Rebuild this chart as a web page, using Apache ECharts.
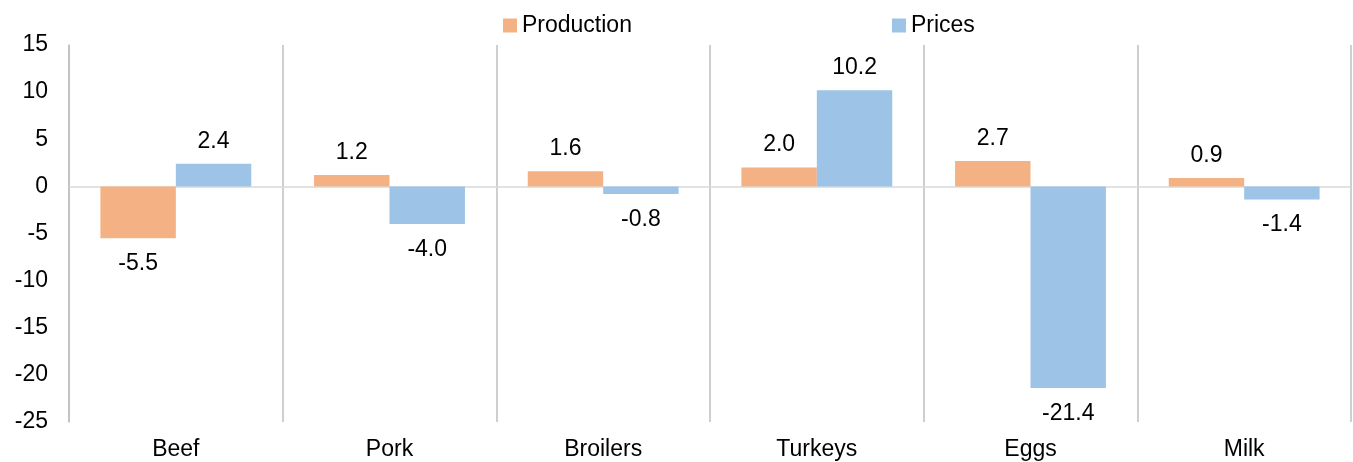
<!DOCTYPE html>
<html>
<head>
<meta charset="utf-8">
<script src="https://cdn.jsdelivr.net/npm/echarts@6/dist/echarts.min.js"></script>
<style>
  html, body { margin: 0; padding: 0; background: #ffffff; }
  #chart { width: 1353px; height: 462px; }
</style>
</head>
<body>
<div id="chart"></div>
<script>
// Percent change by commodity
const categories = ['Beef', 'Pork', 'Broilers', 'Turkeys', 'Eggs', 'Milk'];
const production = [-5.5, 1.2, 1.6, 2.0, 2.7, 0.9];
const prices = [2.4, -4.0, -0.8, 10.2, -21.4, -1.4];

const FONT = 'Liberation Sans, Arial, sans-serif';
const TEXT = '#000000';

// Labels sit above positive bars and below negative ones
function withLabels(values) {
  return values.map(v => ({
    value: v,
    label: {
      position: v < 0 ? 'bottom' : 'top',
      distance: v < 0 ? 14 : 11
    }
  }));
}

const labelStyle = {
  show: true,
  color: TEXT,
  fontFamily: FONT,
  fontSize: 23,
  formatter: p => p.value.toFixed(1)
};

const chart = echarts.init(document.getElementById('chart'));
chart.setOption({
  animation: false,
  backgroundColor: '#ffffff',
  textStyle: { fontFamily: FONT },
  legend: {
    left: 498,
    top: 9,
    itemWidth: 14,
    itemHeight: 14,
    itemGap: 260,
    icon: 'rect',
    textStyle: { color: TEXT, fontSize: 23, fontFamily: FONT },
    data: ['Production', 'Prices']
  },
  grid: { left: 69, right: 2, top: 45, bottom: 40, containLabel: false },
  xAxis: {
    type: 'category',
    data: categories,
    boundaryGap: true,
    axisLine: { show: false },
    axisTick: { show: false },
    axisLabel: { color: TEXT, fontSize: 23, fontFamily: FONT, margin: 16 },
    splitLine: { show: true, lineStyle: { color: '#bfbfbf', width: 1.5 } }
  },
  yAxis: {
    type: 'value',
    min: -25,
    max: 15,
    interval: 5,
    axisLine: { show: true, lineStyle: { color: '#bfbfbf', width: 1.5 } },
    axisTick: { show: false },
    splitLine: { show: false },
    axisLabel: { color: TEXT, fontSize: 23, fontFamily: FONT, margin: 21 }
  },
  series: [
    {
      name: 'Production',
      type: 'bar',
      barWidth: '35.3%',
      barGap: '0%',
      itemStyle: { color: '#f4b183' },
      label: labelStyle,
      data: withLabels(production),
      markLine: {
        silent: true,
        symbol: 'none',
        z: 1,
        label: { show: false },
        lineStyle: { color: '#d9d9d9', type: 'solid', width: 1.5 },
        data: [{ yAxis: 0 }]
      }
    },
    {
      name: 'Prices',
      type: 'bar',
      barWidth: '35.3%',
      barGap: '0%',
      itemStyle: { color: '#9dc3e6' },
      label: labelStyle,
      data: withLabels(prices)
    }
  ]
});
</script>
</body>
</html>
